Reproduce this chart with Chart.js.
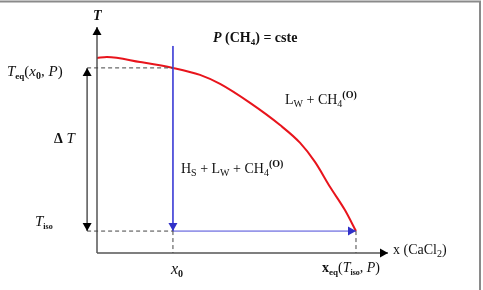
<!DOCTYPE html>
<html>
<head>
<meta charset="utf-8">
<script src="https://cdn.jsdelivr.net/npm/chart.js@4"></script>
<style>
  html, body { margin: 0; padding: 0; background: #fff; }
  #wrap { width: 483px; height: 290px; position: relative; }
</style>
</head>
<body>
<div id="wrap"><canvas id="diagram" width="483" height="290"></canvas></div>
<script>
// Equilibrium curve T_eq(x) at constant P (normalized units)
const curveX = [0, 0.034, 0.148, 0.261, 0.354, 0.423, 0.526, 0.629, 0.698, 0.749, 0.801, 0.852, 0.890];
const curveT = [0.863, 0.867, 0.845, 0.819, 0.788, 0.748, 0.664, 0.566, 0.487, 0.403, 0.292, 0.190, 0.097];

// Key values
const x0 = 0.261;      // initial composition
const xEq = 0.890;     // x_eq(T_iso, P)
const tEq = 0.819;     // T_eq(x0, P)
const tIso = 0.097;    // T_iso
const pathTop = 0.916; // start of the cooling path
const deltaX = -0.034; // where the ΔT arrow stands

const pts = (xs, ys) => xs.map((x, i) => ({ x, y: ys[i] }));

const seg = (data, color, width, dash) => ({
  data, borderColor: color, borderWidth: width, borderDash: dash || [],
  showLine: true, pointRadius: 0, tension: 0, clip: false, fill: false
});

const datasets = [
  // dashed construction lines
  seg([{ x: deltaX, y: tEq }, { x: x0, y: tEq }], '#444', 1, [4, 3]),
  seg([{ x: deltaX, y: tIso }, { x: x0, y: tIso }], '#444', 1, [4, 3]),
  seg([{ x: x0, y: tIso }, { x: x0, y: 0 }], '#444', 1, [4, 3]),
  seg([{ x: xEq, y: tIso }, { x: xEq, y: 0 }], '#444', 1, [4, 3]),
  // axes
  seg([{ x: 0, y: 0 }, { x: 1, y: 0 }], '#555', 1.5),
  seg([{ x: 0, y: 0 }, { x: 0, y: 1 }], '#555', 1.5),
  // ΔT arrow
  seg([{ x: deltaX, y: tEq }, { x: deltaX, y: tIso }], '#555', 1.5),
  // cooling path
  seg([{ x: x0, y: pathTop }, { x: x0, y: tIso }], '#4a4ad8', 1),
  seg([{ x: x0, y: tIso }, { x: xEq, y: tIso }], '#4a4ad8', 1),
  // equilibrium curve
  Object.assign(seg(pts(curveX, curveT), '#e8141c', 2), { cubicInterpolationMode: 'monotone' })
];

function arrowHead(ctx, x, y, dir, color) {
  const len = 8, half = 4.5;
  ctx.save();
  ctx.fillStyle = color;
  ctx.beginPath();
  ctx.moveTo(x, y);
  if (dir === 'up') { ctx.lineTo(x - half, y + len); ctx.lineTo(x + half, y + len); }
  if (dir === 'down') { ctx.lineTo(x - half, y - len); ctx.lineTo(x + half, y - len); }
  if (dir === 'right') { ctx.lineTo(x - len, y - half); ctx.lineTo(x - len, y + half); }
  ctx.closePath();
  ctx.fill();
  ctx.restore();
}

// parts: [text, font, dy]
function rich(ctx, x, y, parts) {
  ctx.save();
  ctx.fillStyle = '#111';
  ctx.textBaseline = 'alphabetic';
  ctx.textAlign = 'left';
  parts.forEach(([t, f, dy]) => {
    ctx.font = f + ' "Liberation Serif", "Times New Roman", serif';
    ctx.fillText(t, x, y + (dy || 0));
    x += ctx.measureText(t).width;
  });
  ctx.restore();
}

const overlay = {
  id: 'overlay',
  beforeDraw(chart) {
    const ctx = chart.ctx;
    ctx.save();
    ctx.fillStyle = '#fff';
    ctx.fillRect(0, 0, chart.width, chart.height);
    ctx.strokeStyle = '#8a8a8a';
    ctx.lineWidth = 2;
    ctx.beginPath();
    ctx.moveTo(0, 1.5); ctx.lineTo(480, 1.5); ctx.lineTo(480, chart.height);
    ctx.stroke();
    ctx.restore();
  },
  afterDatasetsDraw(chart) {
    const ctx = chart.ctx;
    const sx = chart.scales.x, sy = chart.scales.y;
    const px = v => sx.getPixelForValue(v), py = v => sy.getPixelForValue(v);

    arrowHead(ctx, px(0), py(1), 'up', '#000');
    arrowHead(ctx, px(1), py(0), 'right', '#000');
    arrowHead(ctx, px(deltaX), py(tEq), 'up', '#000');
    arrowHead(ctx, px(deltaX), py(tIso), 'down', '#000');
    arrowHead(ctx, px(x0), py(tIso), 'down', '#3030c8');
    arrowHead(ctx, px(xEq), py(tIso), 'right', '#3030c8');

    rich(ctx, px(0) - 4, 20, [['T', 'italic bold 14px']]);
    rich(ctx, 7, py(tEq) + 8, [
      ['T', 'italic 15px'], ['eq', 'bold 9px', 3], ['(', '15px'], ['x', 'italic 15px'],
      ['0', 'bold 10px', 3], [', ', '15px'], ['P', 'italic 15px'], [')', '15px']
    ]);
    rich(ctx, 54, 143, [['Δ', 'bold 14px'], [' T', 'italic 15px']]);
    rich(ctx, 35, py(tIso) - 5, [['T', 'italic 15px'], ['iso', 'bold 8px', 3]]);
    rich(ctx, px(x0) - 2, 274, [['x', 'italic 16px'], ['0', 'bold 10px', 3]]);
    rich(ctx, px(xEq) - 34, 272, [
      ['x', 'bold 14px'], ['eq', 'bold 9px', 3], ['(', '14px'], ['T', 'italic 14px'],
      ['iso', 'bold 8px', 3], [', ', '14px'], ['P', 'italic 14px'], [')', '14px']
    ]);
    rich(ctx, px(1) + 5, 254, [['x (CaCl', '14px'], ['2', '10px', 3], [')', '14px']]);
    rich(ctx, 213, 42, [
      ['P', 'italic bold 14px'], [' (CH', 'bold 14px'], ['4', 'bold 9px', 3], [') = cste', 'bold 14px']
    ]);
    rich(ctx, 285, 104, [
      ['L', '14px'], ['W', '10px', 3], [' + CH', '14px'], ['4', '10px', 3], ['(O)', 'bold 10px', -6]
    ]);
    rich(ctx, 181, 173, [
      ['H', '14px'], ['S', '10px', 3], [' + L', '14px'], ['W', '10px', 3],
      [' + CH', '14px'], ['4', '10px', 3], ['(O)', 'bold 10px', -6]
    ]);
  }
};

new Chart(document.getElementById('diagram').getContext('2d'), {
  type: 'scatter',
  data: { datasets },
  options: {
    responsive: false,
    animation: false,
    devicePixelRatio: 1,
    layout: { padding: { left: 97, right: 95, top: 27, bottom: 37 } },
    plugins: { legend: { display: false }, tooltip: { enabled: false } },
    scales: {
      x: { type: 'linear', min: 0, max: 1, display: false },
      y: { type: 'linear', min: 0, max: 1, display: false }
    }
  },
  plugins: [overlay]
});
</script>
</body>
</html>
